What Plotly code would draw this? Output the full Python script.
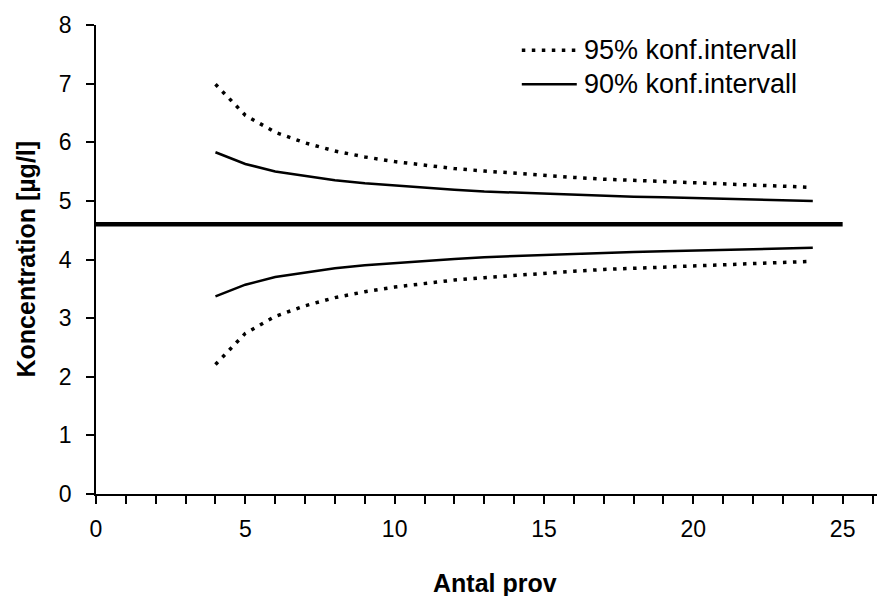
import plotly.graph_objects as go

# Data
antal = [4, 5, 6, 7, 8, 9, 10, 11, 12, 13, 14, 15, 16, 17, 18, 19, 20, 21, 22, 23, 24]
ci95_upper = [6.99, 6.46, 6.17, 5.99, 5.85, 5.75, 5.67, 5.61, 5.55, 5.51, 5.47,
              5.43, 5.40, 5.37, 5.35, 5.32, 5.30, 5.28, 5.27, 5.25, 5.23]
ci95_lower = [2.21, 2.74, 3.03, 3.21, 3.35, 3.45, 3.53, 3.59, 3.65, 3.69, 3.73,
              3.77, 3.80, 3.83, 3.85, 3.88, 3.90, 3.92, 3.94, 3.95, 3.97]
ci90_upper = [5.83, 5.63, 5.50, 5.42, 5.35, 5.30, 5.26, 5.22, 5.19, 5.16, 5.14,
              5.12, 5.10, 5.09, 5.07, 5.06, 5.05, 5.03, 5.02, 5.01, 5.00]
ci90_lower = [3.37, 3.57, 3.70, 3.78, 3.85, 3.90, 3.94, 3.98, 4.01, 4.04, 4.06,
              4.08, 4.10, 4.11, 4.13, 4.14, 4.15, 4.17, 4.18, 4.19, 4.20]
mean_x = [0, 25]
mean_y = [4.6, 4.6]

x_ticks = [0, 5, 10, 15, 20, 25]
y_ticks = [0, 1, 2, 3, 4, 5, 6, 7, 8]
legend_labels = ["95% konf.intervall", "90% konf.intervall"]
x_title = "Antal prov"
y_title = "Koncentration [µg/l]"

FONT = "Liberation Sans, Arial, sans-serif"

fig = go.Figure()

dot_line = dict(color="black", width=3.5, dash="3.5px,6.5px")
solid_line = dict(color="black", width=2.5)

fig.add_trace(go.Scatter(x=antal, y=ci95_upper, mode="lines", line=dot_line,
                         name=legend_labels[0], showlegend=False))
fig.add_trace(go.Scatter(x=antal, y=ci95_lower, mode="lines", line=dot_line,
                         name=legend_labels[0], showlegend=False))
fig.add_trace(go.Scatter(x=antal, y=ci90_upper, mode="lines", line=solid_line,
                         name=legend_labels[1], showlegend=False))
fig.add_trace(go.Scatter(x=antal, y=ci90_lower, mode="lines", line=solid_line,
                         name=legend_labels[1], showlegend=False))
fig.add_trace(go.Scatter(x=mean_x, y=mean_y, mode="lines",
                         line=dict(color="black", width=4.5), showlegend=False))

# Custom legend (keys + labels) in paper coordinates
leg_rows = [0.9463, 0.8739]
leg_styles = [dot_line, solid_line]
for row_y, style, label in zip(leg_rows, leg_styles, legend_labels):
    fig.add_shape(type="line", xref="paper", yref="paper",
                  x0=0.5452, x1=0.6156, y0=row_y, y1=row_y, line=style)
    fig.add_annotation(xref="paper", yref="paper", x=0.622, y=row_y,
                       xanchor="left", yanchor="middle", showarrow=False,
                       text=label, font=dict(size=27))

# Axis titles
fig.add_annotation(xref="paper", yref="paper", x=0.5106, y=-0.1887,
                   xanchor="center", yanchor="middle", showarrow=False,
                   text=f"<b>{x_title}</b>", font=dict(size=25))
fig.add_annotation(xref="paper", yref="paper", x=-0.0909, y=0.5,
                   xanchor="center", yanchor="middle", showarrow=False,
                   textangle=-90, text=f"<b>{y_title}</b>", font=dict(size=25))

fig.update_layout(
    width=895, height=596,
    margin=dict(l=96, r=18, t=25, b=102),
    paper_bgcolor="white", plot_bgcolor="white",
    font=dict(family=FONT, size=23, color="black"),
    showlegend=False,
    xaxis=dict(
        range=[0, 26.15], tickvals=x_ticks, ticks="outside", ticklen=8,
        tickwidth=1.5, tickcolor="black", showline=True, linecolor="black",
        linewidth=1.5, showgrid=False, zeroline=False,
        minor=dict(dtick=1, tick0=0, ticks="outside", ticklen=8,
                   tickwidth=1.5, tickcolor="black", showgrid=False),
        tickfont=dict(size=23), ticklabelstandoff=6,
    ),
    yaxis=dict(
        range=[0, 8], tickvals=y_ticks, ticks="outside", ticklen=8,
        tickwidth=1.5, tickcolor="black", showline=True, linecolor="black",
        linewidth=1.5, showgrid=False, zeroline=False,
        tickfont=dict(size=23), ticklabelstandoff=10,
    ),
)

fig.write_html("out.html")
